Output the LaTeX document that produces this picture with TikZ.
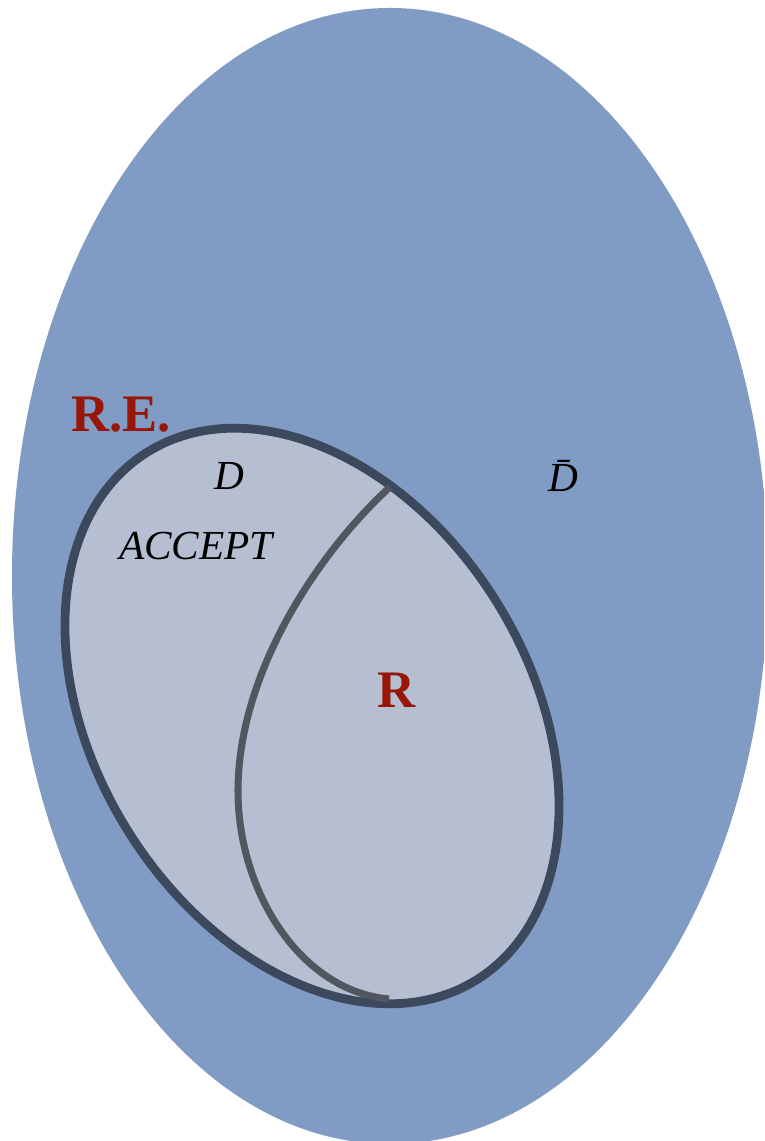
\documentclass[tikz,border=0pt]{standalone}
\usepackage{fontspec}
\setmainfont{Liberation Serif}
\definecolor{outerblue}{RGB}{128,155,196}
\definecolor{innergray}{RGB}{181,191,209}
\definecolor{rimdark}{RGB}{60,72,92}
\definecolor{curvegray}{RGB}{82,86,96}
\definecolor{labelred}{RGB}{152,22,8}
\begin{document}
\begin{tikzpicture}[x=.02cm, y=.02cm,
    setlabel/.style={font=\fontsize{23.5}{28}\selectfont\itshape},
    classlabel/.style={text=labelred,font=\fontsize{30}{36}\selectfont\bfseries}]
    	\useasboundingbox (0,0) rectangle (764,1141);
    	\clip (0,0) rectangle (764,1141);
    	\fill[white] (0,0) rectangle (764,1141);
    	
    	% all languages, r.e. and recursive
    	\fill[outerblue] (390,565) ellipse (378 and 568);
    	\filldraw[fill=innergray, draw=rimdark, line width=5pt, rotate around={-58:(312,425)}] (312,425) ellipse (311 and 217);
    	\coordinate (rtop) at (390,654);
    	\coordinate (rmid) at (238,350);
    	\coordinate (rbot) at (389,142);
    	\draw[curvegray, line width=4pt] (rtop) .. controls (320,590) and (238,470) .. (rmid) .. controls (238,250) and (300,150) .. (rbot);
    	
    	\node[classlabel] (RE) at (121,726) {R.E.};
    	\node[classlabel] (R) at (397,451) {R};
    	\node[setlabel] (D) at (229,665) {D};
    	\node[setlabel] (accept) at (196,595) {ACCEPT};
    	\node[setlabel] (Dbar) at (563,665) {\=D};
    \end{tikzpicture}
\end{document}
